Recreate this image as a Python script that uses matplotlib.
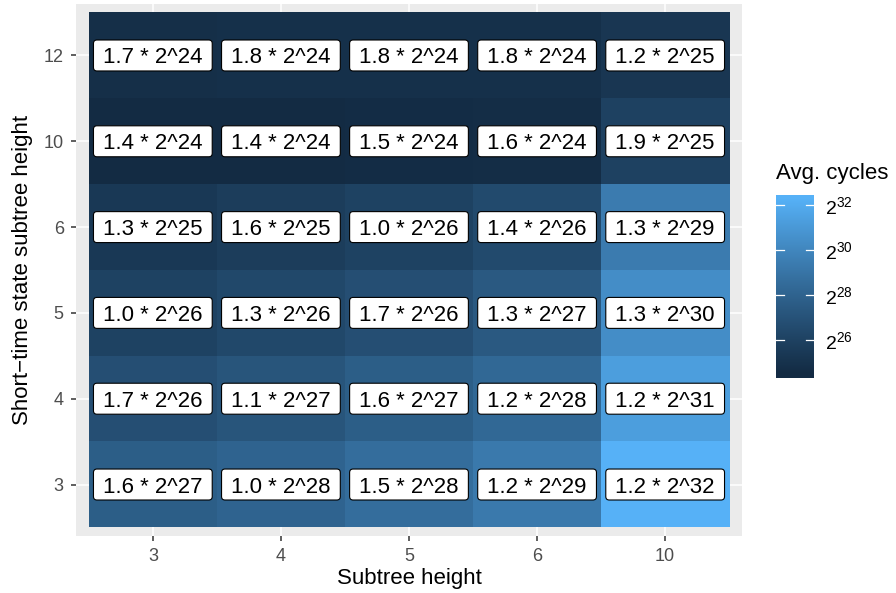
import numpy as np
import matplotlib
matplotlib.use("Agg")
import matplotlib.pyplot as plt
from matplotlib.patches import FancyBboxPatch
from matplotlib.transforms import Affine2D, ScaledTranslation

plt.rcParams['font.family'] = ['Liberation Sans', 'DejaVu Sans']
plt.rcParams['mathtext.fontset'] = 'custom'
plt.rcParams['mathtext.rm'] = 'Liberation Sans'
plt.rcParams['mathtext.it'] = 'Liberation Sans'

# subtree heights (x) and short-time state subtree heights (y, bottom to top)
subtree_heights = ["3", "4", "5", "6", "10"]
state_heights = ["3", "4", "5", "6", "10", "12"]

# average cycles as mantissa * 2^exponent, rows follow state_heights
mantissa = np.array([
    [1.6, 1.0, 1.5, 1.2, 1.2],
    [1.7, 1.1, 1.6, 1.2, 1.2],
    [1.0, 1.3, 1.7, 1.3, 1.3],
    [1.3, 1.6, 1.0, 1.4, 1.3],
    [1.4, 1.4, 1.5, 1.6, 1.9],
    [1.7, 1.8, 1.8, 1.8, 1.2],
])
exponent = np.array([
    [27, 28, 28, 29, 32],
    [26, 27, 27, 28, 31],
    [26, 26, 26, 27, 30],
    [25, 25, 26, 26, 29],
    [24, 24, 24, 24, 25],
    [24, 24, 24, 24, 25],
])
cbar_breaks = [26, 28, 30, 32]


def srgb_to_lab(rgb):
    c = np.asarray(rgb, dtype=float)
    c = np.where(c > 0.04045, ((c + 0.055) / 1.055) ** 2.4, c / 12.92)
    m = np.array([[0.4124564, 0.3575761, 0.1804375],
                  [0.2126729, 0.7151522, 0.0721750],
                  [0.0193339, 0.1191920, 0.9503041]])
    xyz = m @ c / np.array([0.95047, 1.0, 1.08883])
    f = np.where(xyz > 216 / 24389, np.cbrt(xyz), (24389 / 27 * xyz + 16) / 116)
    return np.array([116 * f[1] - 16, 500 * (f[0] - f[1]), 200 * (f[1] - f[2])])


def lab_to_srgb(lab):
    L, a, b = lab
    fy = (L + 16) / 116
    f = np.array([fy + a / 500, fy, fy - b / 200])
    xyz = np.where(f ** 3 > 216 / 24389, f ** 3, (116 * f - 16) / (24389 / 27))
    xyz = xyz * np.array([0.95047, 1.0, 1.08883])
    m = np.array([[3.2404542, -1.5371385, -0.4985314],
                  [-0.9692660, 1.8760108, 0.0415560],
                  [0.0556434, -0.2040259, 1.0572252]])
    c = m @ xyz
    c = np.where(c > 0.0031308, 1.055 * np.clip(c, 0, None) ** (1 / 2.4) - 0.055, 12.92 * c)
    return np.clip(c, 0, 1)


def hex_rgb(h):
    return [int(h[i:i + 2], 16) / 255 for i in (1, 3, 5)]


# blue gradient, interpolated in Lab
lo, hi = srgb_to_lab(hex_rgb("#132B43")), srgb_to_lab(hex_rgb("#56B1F7"))


def fill(v, vmin, vmax):
    t = (v - vmin) / (vmax - vmin)
    return lab_to_srgb(lo + (hi - lo) * t)


values = np.log2(mantissa) + exponent
vmin, vmax = values.min(), values.max()

fig = plt.figure(figsize=(8.96, 5.93), dpi=100)
ax = fig.add_axes([76 / 896, 1 - 536 / 593, 666 / 896, 532 / 593])
ax.set_facecolor("#EBEBEB")

nx, ny = len(subtree_heights), len(state_heights)

for i in range(1, nx + 1):
    ax.axvline(i, color="white", lw=1.1, zorder=0)
for j in range(1, ny + 1):
    ax.axhline(j, color="white", lw=1.1, zorder=0)

# tiles
rgb = np.array([[fill(v, vmin, vmax) for v in row] for row in values])
ax.imshow(rgb, extent=[0.5, nx + 0.5, 0.5, ny + 0.5], origin="lower",
          aspect="auto", interpolation="nearest", zorder=1)

# label boxes sized in points around each tile centre
box_w, box_h = 85.5, 22.3
pt = Affine2D().scale(1 / 72) + fig.dpi_scale_trans
for j in range(ny):
    for i in range(nx):
        at = ScaledTranslation(i + 1, j + 1, ax.transData)
        ax.add_patch(FancyBboxPatch((-box_w / 2, -box_h / 2), box_w, box_h,
                                    boxstyle="round,pad=0,rounding_size=2.5",
                                    fc="white", ec="black", lw=0.8,
                                    transform=pt + at, zorder=2, clip_on=False))
        ax.text(i + 1, j + 1, f"{mantissa[j, i]:.1f} * 2^{exponent[j, i]}",
                ha="center", va="center_baseline", fontsize=16, color="black",
                zorder=3)

ax.set_xlim(0.4, nx + 0.6)
ax.set_ylim(0.4, ny + 0.6)
ax.set_xticks(np.arange(1, nx + 1), subtree_heights)
ax.set_yticks(np.arange(1, ny + 1), state_heights)
ax.tick_params(length=3.8, width=1.1, color="#333333", labelcolor="#4D4D4D",
               labelsize=13, pad=5)
for s in ax.spines.values():
    s.set_visible(False)
ax.set_xlabel("Subtree height", fontsize=16, labelpad=2)
ax.set_ylabel("Short\u2212time state subtree height", fontsize=16, labelpad=8)

# colour bar legend: 20 bins, bar reaching half a bin past the data range
nbin = 20
bins = np.linspace(vmin, vmax, nbin)
half = (vmax - vmin) / (nbin - 1) / 2
cax = fig.add_axes([776 / 896, 1 - 378.5 / 593, 38 / 896, 183.5 / 593])
cax.imshow(np.array([fill(v, vmin, vmax) for v in bins])[:, None, :],
           extent=[0, 1, vmin - half, vmax + half], origin="lower",
           aspect="auto", interpolation="bilinear")
cax.set_xlim(0, 1)
cax.set_ylim(vmin - half, vmax + half)
cax.set_xticks([])
cax.yaxis.tick_right()
cax.set_yticks(cbar_breaks, labels=[f"$2^{{{b}}}$" for b in cbar_breaks])
cax.tick_params(axis="y", length=0, labelsize=14, pad=8, labelcolor="black")
for s in cax.spines.values():
    s.set_visible(False)
tr = cax.get_yaxis_transform()
for b in cbar_breaks:
    cax.plot([0, 0.2], [b, b], color="white", lw=0.9, transform=tr)
    cax.plot([0.8, 1], [b, b], color="white", lw=0.9, transform=tr)
fig.text(776 / 896, 1 - 173 / 593, "Avg. cycles", fontsize=16, va="center")

fig.savefig("out.png", dpi=100)
